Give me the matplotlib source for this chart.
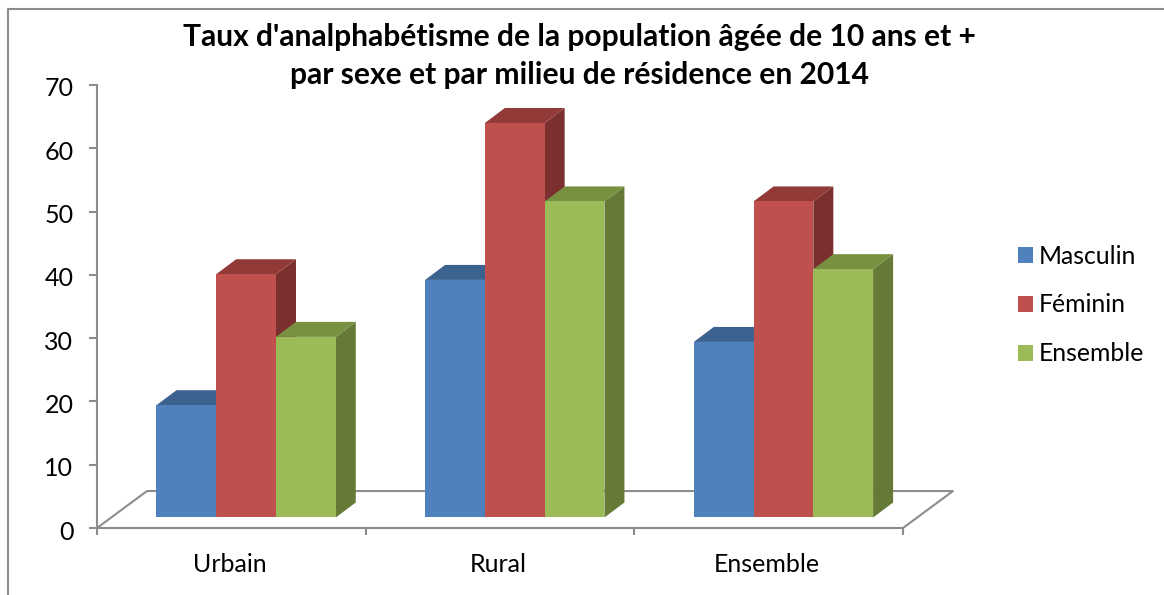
#!/usr/bin/env python3
"""Taux d'analphabetisme 2014 - fake 3D clustered columns (Excel look)."""

import numpy as np
import matplotlib
matplotlib.use("Agg")
import matplotlib.pyplot as plt
from matplotlib.lines import Line2D
from matplotlib.patches import Polygon
from matplotlib.transforms import ScaledTranslation

plt.rcParams['font.family'] = ['Lato', 'DejaVu Sans']

# Data
categories = ["Urbain", "Rural", "Ensemble"]
masculin = [19.4, 39.2, 29.4]
feminin = [40.1, 64.0, 51.6]
ensemble = [30.2, 51.6, 40.9]
series_names = ["Masculin", "Féminin", "Ensemble"]
y_ticks = [0, 10, 20, 30, 40, 50, 60, 70]

W, H = 1164, 595
GREY = "#8c8c8c"

# front, top, side colours for each series
face_colors = ["#4f81bd", "#c0504d", "#9bbb59"]
top_colors = ["#3c628f", "#913a38", "#779140"]
side_colors = ["#345478", "#7b2f2e", "#667a37"]

fig = plt.figure(figsize=(W / 100, H / 100), dpi=100)
ax = fig.add_axes([97 / W, 1 - 528 / H, (903 - 97) / W, (528 - 85) / H])
ax.set_xlim(0, 3)
ax.set_ylim(0, 70)

# Chart frame, only left and top show up
fig.add_artist(Line2D([8 / W, 8 / W, 1], [0, 1 - 9 / H, 1 - 9 / H],
                      color=GREY, lw=1.5))

# Floor of the 3D box
floor_dx, floor_dy = 0.186, 5.84
ax.plot([0, floor_dx, 3 + floor_dx, 3], [0, floor_dy, floor_dy, 0],
        color=GREY, lw=1.5, clip_on=False, zorder=1)

bar_w = 0.2225
depth_x, depth_y = 0.0744, 2.37
base = 1.66
shift = 0.055

values = [masculin, feminin, ensemble]
x = np.arange(len(categories)) + 0.5 + shift

z = 2
handles = []
for c in range(len(categories)):
    for s in range(len(series_names)):
        left = x[c] + (s - 1.5) * bar_w
        val = values[s][c]
        right = left + bar_w
        # side and top first, front face on top
        ax.add_patch(Polygon([(right, base), (right + depth_x, base + depth_y),
                              (right + depth_x, val + depth_y), (right, val)],
                             facecolor=side_colors[s], edgecolor="none", zorder=z,
                             clip_on=False))
        ax.add_patch(Polygon([(left, val), (left + depth_x, val + depth_y),
                              (right + depth_x, val + depth_y), (right, val)],
                             facecolor=top_colors[s], edgecolor="none", zorder=z,
                             clip_on=False))
        bar = ax.bar(left, val - base, width=bar_w, bottom=base, align="edge",
                     color=face_colors[s], zorder=z + 0.5)
        if c == 0:
            handles.append(bar[0])
        z += 1

ax.spines["top"].set_visible(False)
ax.spines["right"].set_visible(False)
ax.spines["left"].set_color(GREY)
ax.spines["bottom"].set_color(GREY)
ax.spines["left"].set_linewidth(1.5)
ax.spines["bottom"].set_linewidth(1.5)

ax.set_yticks(y_ticks)
ax.tick_params(axis="y", length=6, width=1.5, color=GREY, labelsize=18, pad=11)
# the labels sit a bit lower than the ticks in the original
down = ScaledTranslation(0, -2 / 100, fig.dpi_scale_trans)
for label in ax.get_yticklabels():
    label.set_transform(label.get_transform() + down)
ax.set_xticks([0, 1, 2, 3])
ax.set_xticklabels([])
ax.tick_params(axis="x", length=5, width=1.5, color=GREY)
for i, name in enumerate(categories):
    ax.annotate(name, (i + 0.5, 0), xytext=(-1, -37 * 0.72), textcoords="offset points",
                ha="center", va="center", fontsize=18)

fig.text(579 / W, 1 - 56 / H,
         "Taux d'analphabétisme de la population âgée de 10 ans et +\n"
         "par sexe et par milieu de résidence en 2014",
         ha="center", va="center", fontsize=21.6, fontweight="bold", linespacing=1.47)

fig.legend(handles, series_names, loc="center left",
           bbox_to_anchor=(996 / W, 1 - 305 / H), frameon=False, fontsize=17.8,
           handlelength=0.6, handleheight=0.6, handletextpad=0.22, labelspacing=1.05)

plt.savefig("out.png", dpi=100)
